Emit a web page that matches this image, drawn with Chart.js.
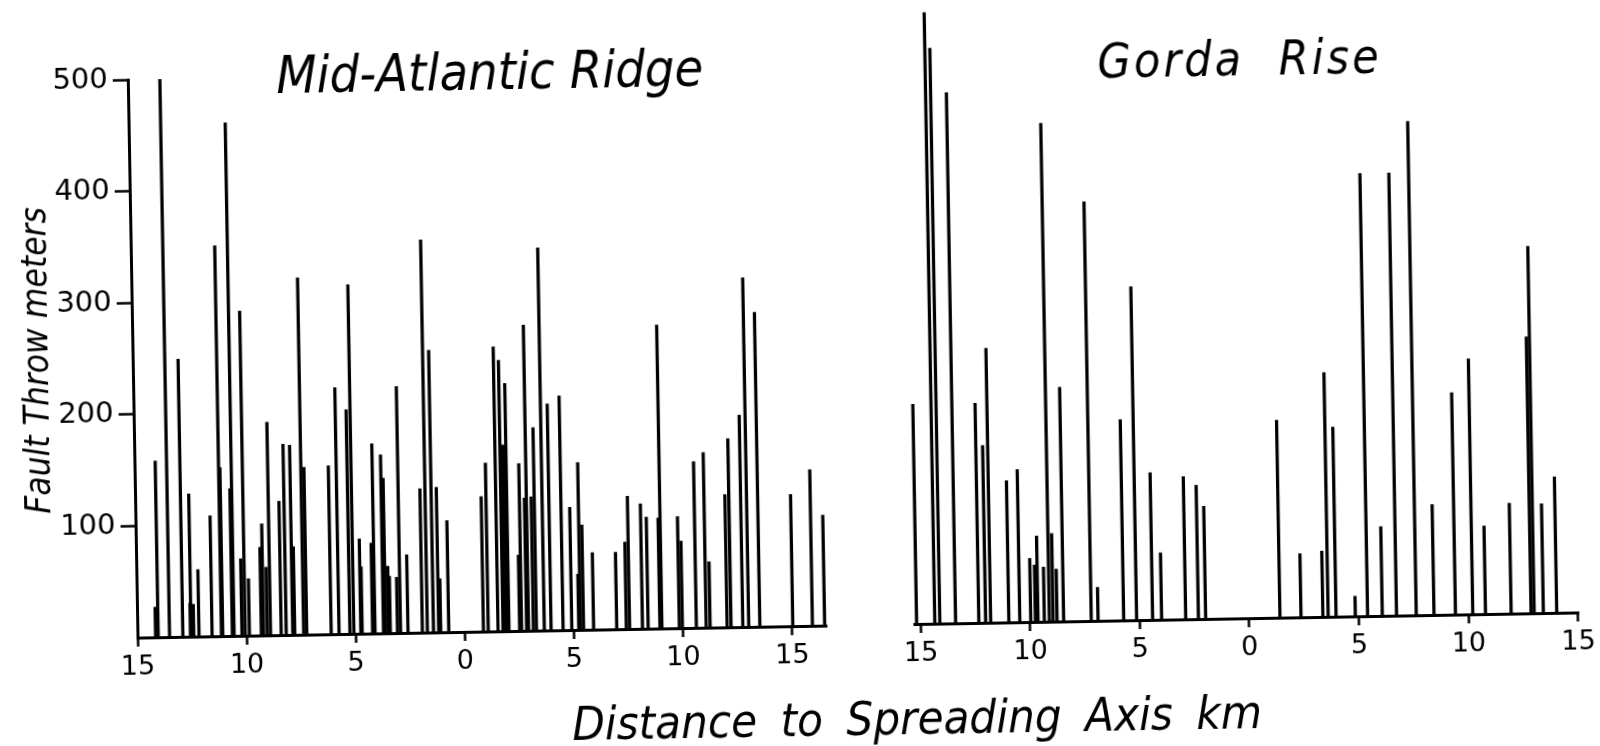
<!DOCTYPE html>
<html>
<head>
<meta charset="utf-8">
<title>Fault throw vs distance to spreading axis</title>
<script src="https://cdn.jsdelivr.net/npm/chart.js@4/dist/chart.umd.min.js"></script>
<style>
  html, body { margin: 0; padding: 0; background: #fff; overflow: hidden; }
  #fig {
    position: relative; width: 1600px; height: 746px; background: #fff;
    transform: rotate(-1deg); transform-origin: 800px 373px;
  }
  #fig canvas { position: absolute; left: 0; top: 0; }
</style>
</head>
<body>
<div id="fig">
  <canvas id="mar" width="1600" height="746"></canvas>
  <canvas id="gorda" width="1600" height="746"></canvas>
</div>
<script>
// Mid-Atlantic Ridge faults: signed distance from the axis (km, negative = west side) and throw (m)
const marDistance = [
  -14.17, -14.05, -13.53, -12.92, -12.57, -12.54, -12.42, -12.18, -11.58, -11.15,
  -11.09, -10.65, -10.57, -10.21, -10.06, -9.87, -9.32, -9.22, -9.05, -8.9,
  -8.41, -8.18, -7.88, -7.79, -7.38, -7.24, -6.12, -5.76, -5.26, -5.08,
  -4.76, -4.7, -4.22, -4.11, -3.72, -3.62, -3.48, -3.41, -3.08, -2.94,
  -2.6, -1.94, -1.71, -1.43, -1.19, -1.1, -0.73,
  0.86, 1.08, 1.53, 1.76, 1.89, 2.03, 2.52, 2.61, 2.84, 2.93,
  3.15, 3.29, 3.65, 3.96, 4.51, 4.91, 5.23, 5.31, 5.45, 5.91,
  6.97, 7.41, 7.56, 8.15, 8.41, 8.95, 9.04, 9.84, 9.98, 10.62,
  11.07, 11.25, 12.03, 12.21, 12.75, 13.02, 13.53, 15.04, 15.94, 16.5
];
const marThrow = [
  27, 158, 500, 249, 30, 128, 29, 60, 108, 350,
  151, 132, 460, 69, 291, 51, 79, 100, 61, 191,
  120, 171, 170, 79, 320, 150, 151, 221, 201, 313,
  85, 60, 81, 170, 160, 139, 60, 51, 50, 221,
  70, 129, 352, 253, 130, 48, 100,
  121, 151, 255, 243, 167, 222, 68, 150, 119, 274,
  120, 182, 343, 203, 210, 110, 50, 150, 94, 69,
  69, 78, 119, 112, 100, 99, 272, 100, 78, 149,
  157, 59, 119, 169, 190, 313, 282, 118, 140, 99
];

// Gorda Rise faults: signed distance from the axis (km) and throw (m)
const gordaDistance = [
  -15.18, -14.35, -14.12, -13.4, -12.34, -12.03, -11.8, -10.97, -10.47, -9.97,
  -9.76, -9.64, -9.35, -9.12, -8.95, -8.77, -8.47, -7.21, -6.9, -5.73,
  -5.14, -4.41, -4.0, -2.9, -2.32, -1.99,
  1.4, 2.36, 3.36, 3.6, 3.96, 4.84, 5.4, 6.07, 6.72, 7.62,
  8.43, 9.41, 10.2, 10.78, 11.95, 12.86, 13.0, 13.42, 14.03
];
const gordaThrow = [
  197, 548, 516, 476, 197, 159, 246, 127, 137, 57,
  51, 77, 49, 447, 79, 47, 210, 376, 30, 180,
  299, 132, 60, 128, 120, 101,
  177, 57, 59, 219, 170, 18, 397, 80, 397, 443,
  99, 199, 229, 79, 99, 248, 329, 98, 122
];

const distanceTicks = [-15, -10, -5, 0, 5, 10, 15];
const throwTicks = [100, 200, 300, 400, 500];

const panelTitles = ['Mid-Atlantic Ridge', 'Gorda Rise'];
const xAxisTitle = 'Distance to Spreading Axis km';
const yAxisTitle = 'Fault Throw meters';

const INK = '#000';
const TICK_FONT = "'DejaVu Sans', sans-serif";
const LETTER_FONT = "'DejaVu Sans Condensed', 'DejaVu Sans', sans-serif";

function points(xs, ys) {
  return xs.map((x, i) => ({ x: x, y: ys[i] }));
}

// Free-standing lettering (panel titles, shared x-axis caption)
const lettering = {
  id: 'lettering',
  afterDraw(chart, args, opts) {
    const ctx = chart.ctx;
    (opts.items || []).forEach(t => {
      ctx.save();
      ctx.font = t.font;
      ctx.fillStyle = INK;
      ctx.textAlign = 'center';
      ctx.textBaseline = 'alphabetic';
      if ('letterSpacing' in ctx) ctx.letterSpacing = t.letterSpacing || '0px';
      if ('wordSpacing' in ctx) ctx.wordSpacing = t.wordSpacing || '0px';
      ctx.fillText(t.text, t.x, t.y);
      ctx.restore();
    });
  }
};

function distanceAxis(min, max) {
  return {
    type: 'linear',
    position: 'bottom',
    min: min,
    max: max,
    offset: false,
    afterFit(scale) { scale.height = 746 - scale.chart.options.plotBottom; },
    afterBuildTicks(scale) { scale.ticks = distanceTicks.map(v => ({ value: v })); },
    ticks: {
      autoSkip: false,
      maxRotation: 0,
      padding: 5,
      color: INK,
      font: { family: TICK_FONT, size: 27 },
      callback: v => String(Math.abs(v))
    },
    grid: {
      offset: false,
      drawOnChartArea: false,
      drawTicks: true,
      tickLength: 9,
      tickWidth: 2.5,
      color: INK
    },
    border: { display: true, color: INK, width: 3 }
  };
}

function barSet(xs, ys) {
  return {
    data: points(xs, ys),
    backgroundColor: INK,
    borderWidth: 0,
    barThickness: 2.6,
    clip: false
  };
}

// Left panel: Mid-Atlantic Ridge, carries the throw axis
new Chart(document.getElementById('mar'), {
  type: 'bar',
  data: { datasets: [barSet(marDistance, marThrow)] },
  plugins: [lettering],
  options: {
    plotBottom: 626,
    responsive: false,
    animation: false,
    events: [],
    layout: { padding: { left: 0, top: 68.3, right: 778, bottom: 0 } },
    scales: {
      x: distanceAxis(-15, 16.58),
      y: {
        type: 'linear',
        position: 'left',
        min: 0,
        max: 500,
        afterFit(scale) { scale.width = 133; },
        afterBuildTicks(scale) { scale.ticks = throwTicks.map(v => ({ value: v })); },
        ticks: {
          padding: 5,
          color: INK,
          font: { family: TICK_FONT, size: 29 }
        },
        grid: {
          drawOnChartArea: false,
          drawTicks: true,
          tickLength: 15,
          tickWidth: 2.5,
          color: INK
        },
        border: { display: true, color: INK, width: 3 },
        title: {
          display: true,
          text: yAxisTitle,
          color: INK,
          padding: { top: 18, bottom: 0 },
          font: { family: LETTER_FONT, size: 35, style: 'italic' }
        }
      }
    },
    plugins: {
      legend: { display: false },
      tooltip: { enabled: false },
      lettering: {
        items: [
          { text: panelTitles[0], x: 495, y: 84, font: "italic 52px " + LETTER_FONT },
          { text: xAxisTitle, x: 911, y: 736, font: "italic 47px " + LETTER_FONT, wordSpacing: '10px' }
        ]
      }
    }
  }
});

// Right panel: Gorda Rise, same throw scale, no vertical axis drawn
new Chart(document.getElementById('gorda'), {
  type: 'bar',
  data: { datasets: [barSet(gordaDistance, gordaThrow)] },
  plugins: [lettering],
  options: {
    plotBottom: 626,
    responsive: false,
    animation: false,
    events: [],
    layout: { padding: { left: 910.7, top: 0, right: 25.2, bottom: 0 } },
    scales: {
      x: distanceAxis(-15.25, 15.05),
      y: {
        type: 'linear',
        display: false,
        min: 0,
        max: 561.4
      }
    },
    plugins: {
      legend: { display: false },
      tooltip: { enabled: false },
      lettering: {
        items: [
          { text: panelTitles[1], x: 1245, y: 83, font: "italic 48px " + LETTER_FONT, letterSpacing: '3px', wordSpacing: '18px' }
        ]
      }
    }
  }
});
</script>
</body>
</html>
